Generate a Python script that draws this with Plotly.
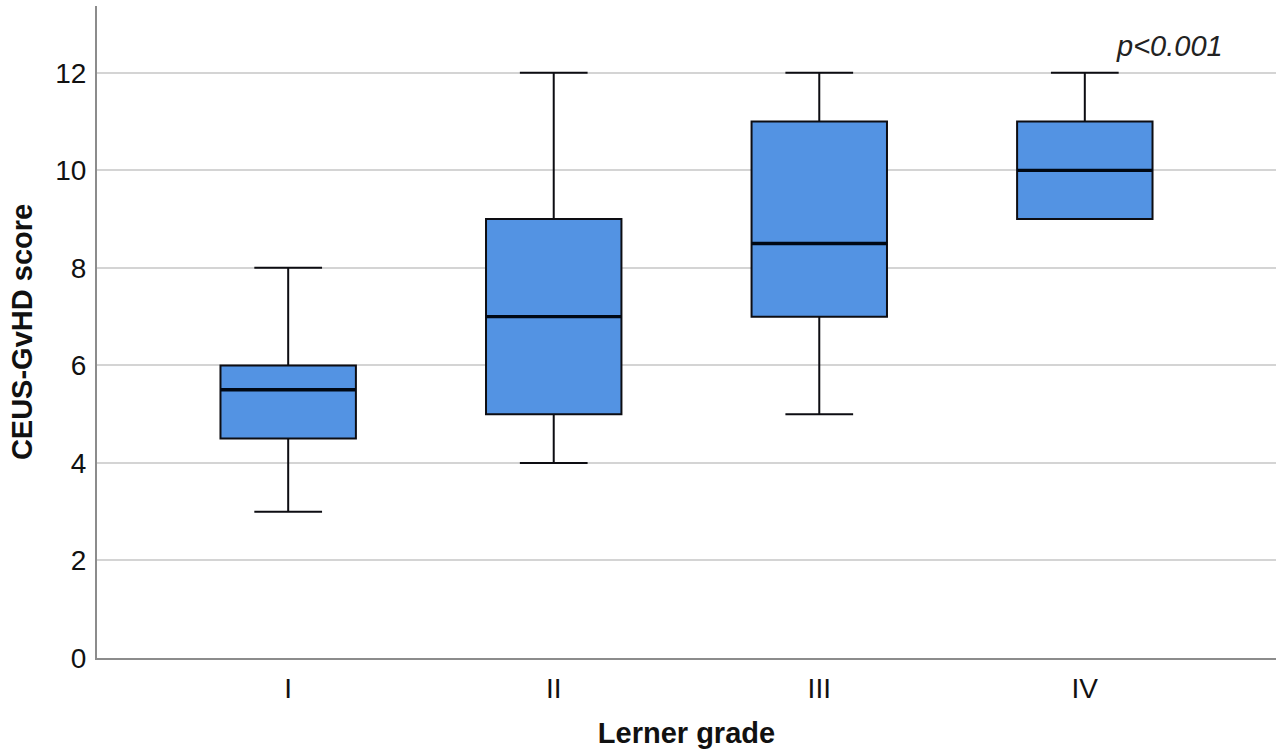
import plotly.graph_objects as go

# ------------------------
# Data
# ------------------------

grades = ["I", "II", "III", "IV"]
lower = [3, 4, 5, 9]
q1 = [4.5, 5, 7, 9]
median = [5.5, 7, 8.5, 10]
q3 = [6, 9, 11, 11]
upper = [8, 12, 12, 12]

p_text = "p<0.001"

box_width = 0.51
fill = "#5393E3"
font = "Liberation Sans, Arial, sans-serif"

fig = go.Figure()

# ------------------------
# Boxes
# ------------------------

for i, g in enumerate(grades):
    fig.add_trace(
        go.Box(
            x=[i],
            q1=[q1[i]],
            median=[median[i]],
            q3=[q3[i]],
            lowerfence=[lower[i]],
            upperfence=[upper[i]],
            width=box_width,
            whiskerwidth=0.5,
            fillcolor=fill,
            line=dict(color="#0d0d12", width=2),
            name=g,
            hoverinfo="skip",
        )
    )

# thicker median lines, like SPSS draws them
for i in range(len(grades)):
    fig.add_trace(
        go.Scatter(
            x=[i - box_width / 2, i + box_width / 2],
            y=[median[i], median[i]],
            mode="lines",
            line=dict(color="#000814", width=3.4),
            hoverinfo="skip",
        )
    )

fig.add_annotation(
    x=3.32,
    y=12.55,
    text="<i>" + p_text + "</i>",
    showarrow=False,
    font=dict(family=font, size=29, color="#222222"),
)

fig.update_layout(
    width=1280,
    height=755,
    margin=dict(l=97, r=4, t=6, b=97),
    plot_bgcolor="white",
    paper_bgcolor="white",
    showlegend=False,
    font=dict(family=font, color="#111111"),
    xaxis=dict(
        range=[-0.72, 3.72],
        tickvals=list(range(len(grades))),
        ticktext=grades,
        tickfont=dict(size=28),
        ticklabelstandoff=4,
        showgrid=False,
        zeroline=False,
        showline=True,
        linecolor="#8c8c8c",
        linewidth=2,
        ticks="",
        automargin=False,
        title=dict(text="<b>Lerner grade</b>", font=dict(size=29), standoff=20),
    ),
    yaxis=dict(
        range=[0, 13.37],
        tickvals=[0, 2, 4, 6, 8, 10, 12],
        tickfont=dict(size=28),
        ticklabelstandoff=3,
        showgrid=True,
        gridcolor="#d4d4d4",
        gridwidth=1.5,
        zeroline=False,
        showline=True,
        linecolor="#8c8c8c",
        linewidth=2,
        ticks="",
        automargin=False,
        title=dict(text="<b>CEUS-GvHD score</b>", font=dict(size=29), standoff=14),
    ),
)

fig.write_html(
    "out.html",
    config={"displayModeBar": False},
    post_script="document.body.style.margin='0';",
)
